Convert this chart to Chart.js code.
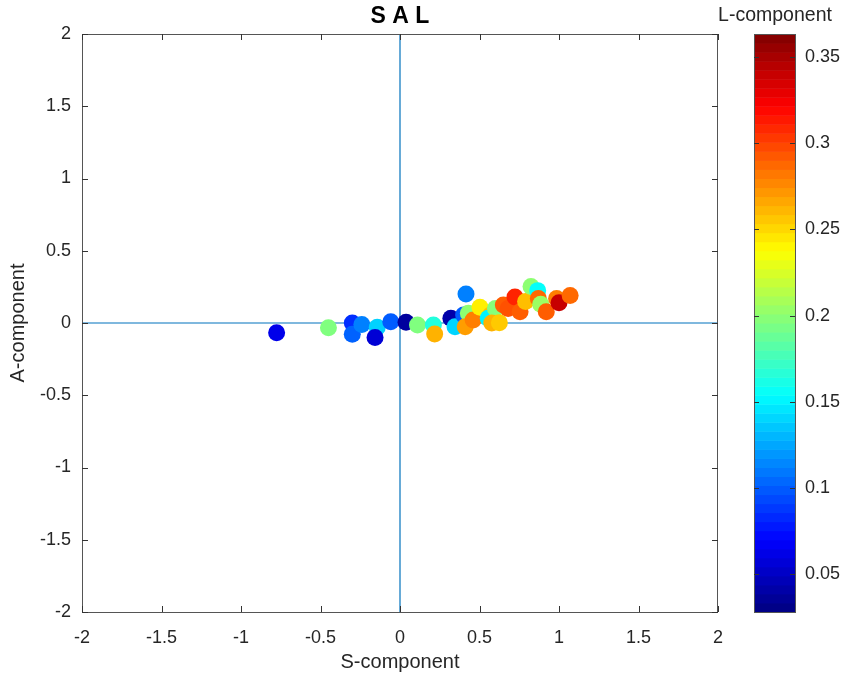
<!DOCTYPE html>
<html>
<head>
<meta charset="utf-8">
<script src="https://cdn.jsdelivr.net/npm/chart.js@4/dist/chart.umd.min.js"></script>
<style>
  body { margin: 0; background: #fff; }
  #salChart { display: block; }
</style>
</head>
<body>
<canvas id="salChart" width="844" height="677"></canvas>
<script>
// S, A, L components for each point (L drives the colour)
const sComp = [-0.776, -0.45, -0.30, -0.30, -0.24, -0.143, -0.157, -0.058, 0.038, 0.11,
  0.21, 0.218, 0.32, 0.346, 0.415, 0.40, 0.43, 0.41, 0.46, 0.503,
  0.57, 0.555, 0.60, 0.577, 0.625, 0.65, 0.68, 0.723, 0.755, 0.79,
  0.824, 0.866, 0.87, 0.885, 0.92, 0.985, 1.0, 1.07];
const aComp = [-0.067, -0.033, 0.0, -0.078, -0.01, -0.03, -0.10, 0.009, 0.005, -0.014,
  -0.014, -0.076, 0.033, -0.026, 0.20, 0.056, 0.067, -0.026, 0.02, 0.109,
  0.056, 0.033, 0.10, 0.0, 0.002, 0.125, 0.10, 0.18, 0.078, 0.148,
  0.252, 0.224, 0.17, 0.13, 0.078, 0.17, 0.14, 0.19];
const lComp = [0.063, 0.196, 0.085, 0.102, 0.112, 0.139, 0.056, 0.10, 0.038, 0.196,
  0.165, 0.263, 0.042, 0.14, 0.112, 0.10, 0.20, 0.270, 0.28, 0.243,
  0.259, 0.15, 0.198, 0.263, 0.255, 0.291, 0.295, 0.31, 0.291, 0.259,
  0.20, 0.155, 0.287, 0.205, 0.291, 0.28, 0.34, 0.287];

const xTicks = [-2, -1.5, -1, -0.5, 0, 0.5, 1, 1.5, 2];
const yTicks = [-2, -1.5, -1, -0.5, 0, 0.5, 1, 1.5, 2];
const cbTicks = [0.05, 0.1, 0.15, 0.2, 0.25, 0.3, 0.35];
const cbMin = 0.0279;
const cbMax = 0.3635;

const FONT = "'Liberation Sans', Arial, Helvetica, sans-serif";
const TXT = "#262626";

function jet(t) {
  t = Math.min(1, Math.max(0, t));
  const c = v => Math.round(255 * Math.min(1, Math.max(0, v)));
  return "rgb(" + c(1.5 - Math.abs(4 * t - 3)) + "," + c(1.5 - Math.abs(4 * t - 2)) + "," + c(1.5 - Math.abs(4 * t - 1)) + ")";
}

const points = sComp.map((s, i) => ({ x: s, y: aComp[i] }));
const pointColors = lComp.map(l => jet((l - cbMin) / (cbMax - cbMin)));

const fmt = v => String(v);

const boxPlugin = {
  id: "boxPlugin",
  afterDraw(chart) {
    const c = chart.ctx;
    const a = chart.chartArea;
    const xs = chart.scales.x, ys = chart.scales.y;
    c.save();
    // axes box
    c.strokeStyle = "#555";
    c.lineWidth = 1;
    c.strokeRect(Math.round(a.left) + 0.5, Math.round(a.top) + 0.5, Math.round(a.right - a.left) - 1, Math.round(a.bottom - a.top));
    // inward ticks
    c.strokeStyle = "#333";
    c.beginPath();
    xTicks.forEach(v => {
      const px = Math.round(xs.getPixelForValue(v)) + 0.5;
      c.moveTo(px, a.bottom); c.lineTo(px, a.bottom - 6);
      c.moveTo(px, a.top); c.lineTo(px, a.top + 6);
    });
    yTicks.forEach(v => {
      const py = Math.round(ys.getPixelForValue(v)) + 0.5;
      c.moveTo(a.left, py); c.lineTo(a.left + 6, py);
      c.moveTo(a.right, py); c.lineTo(a.right - 6, py);
    });
    c.stroke();

    // title
    c.fillStyle = "#000";
    c.font = "bold 23px " + FONT;
    c.textAlign = "center";
    c.textBaseline = "middle";
    c.fillText("S A L", (a.left + a.right) / 2, 17);

    // colorbar
    const cbL = 754, cbR = 796, top = a.top, bot = a.bottom;
    const n = 64;
    for (let i = 0; i < n; i++) {
      const y0 = bot - (bot - top) * i / n;
      const y1 = bot - (bot - top) * (i + 1) / n;
      c.fillStyle = jet((i + 0.5) / n);
      c.fillRect(cbL, y1, cbR - cbL, y0 - y1 + 0.5);
    }
    c.strokeStyle = "#555";
    c.strokeRect(cbL + 0.5, Math.round(top) + 0.5, cbR - cbL - 1, Math.round(bot - top));
    c.fillStyle = TXT;
    c.font = "18px " + FONT;
    c.textAlign = "left";
    c.textBaseline = "middle";
    c.strokeStyle = "#333";
    cbTicks.forEach(v => {
      const py = Math.round(bot - (v - cbMin) / (cbMax - cbMin) * (bot - top)) + 0.5;
      c.beginPath();
      c.moveTo(cbR - 1, py); c.lineTo(cbR - 6, py);
      c.moveTo(cbL, py); c.lineTo(cbL + 5, py);
      c.stroke();
      c.fillText(fmt(v), 805, py);
    });
    c.font = "19.5px " + FONT;
    c.textAlign = "center";
    c.fillText("L-component", 775, 16);
    c.restore();
  }
};

const ctx = document.getElementById("salChart").getContext("2d");
const salChart = new Chart(ctx, {
  type: "scatter",
  data: {
    datasets: [
      {
        data: points,
        backgroundColor: pointColors,
        borderWidth: 0,
        pointRadius: 8.5,
        order: 1,
      },
      {
        type: "line",
        data: [{ x: -2, y: 0 }, { x: 2, y: 0 }],
        borderColor: "#0072BD",
        borderWidth: 1.2,
        pointRadius: 0,
        order: 2,
      },
      {
        type: "line",
        data: [{ x: 0, y: -2 }, { x: 0, y: 2 }],
        borderColor: "#0072BD",
        borderWidth: 1.2,
        pointRadius: 0,
        order: 2,
      },
    ],
  },
  options: {
    responsive: false,
    animation: false,
    layout: { padding: { top: 34, right: 126, left: 0, bottom: 0 } },
    plugins: { legend: { display: false }, tooltip: { enabled: false } },
    scales: {
      x: {
        type: "linear",
        min: -2,
        max: 2,
        afterBuildTicks: s => { s.ticks = xTicks.map(v => ({ value: v })); },
        afterFit: s => { s.height = 65; },
        grid: { display: false },
        border: { display: false },
        ticks: { color: TXT, font: { family: FONT, size: 18 }, padding: 7, maxRotation: 0, callback: v => fmt(v) },
        title: { display: true, text: "S-component", color: TXT, font: { family: FONT, size: 20 }, padding: { top: 0, bottom: 3 } },
      },
      y: {
        type: "linear",
        min: -2,
        max: 2,
        afterBuildTicks: s => { s.ticks = yTicks.map(v => ({ value: v })); },
        afterFit: s => { s.width = 82; },
        grid: { display: false },
        border: { display: false },
        ticks: { color: TXT, font: { family: FONT, size: 18 }, padding: 3, callback: v => fmt(v) },
        title: { display: true, text: "A-component", color: TXT, font: { family: FONT, size: 20 }, padding: { top: 6, bottom: 0 } },
      },
    },
  },
  plugins: [boxPlugin],
});
</script>
</body>
</html>
